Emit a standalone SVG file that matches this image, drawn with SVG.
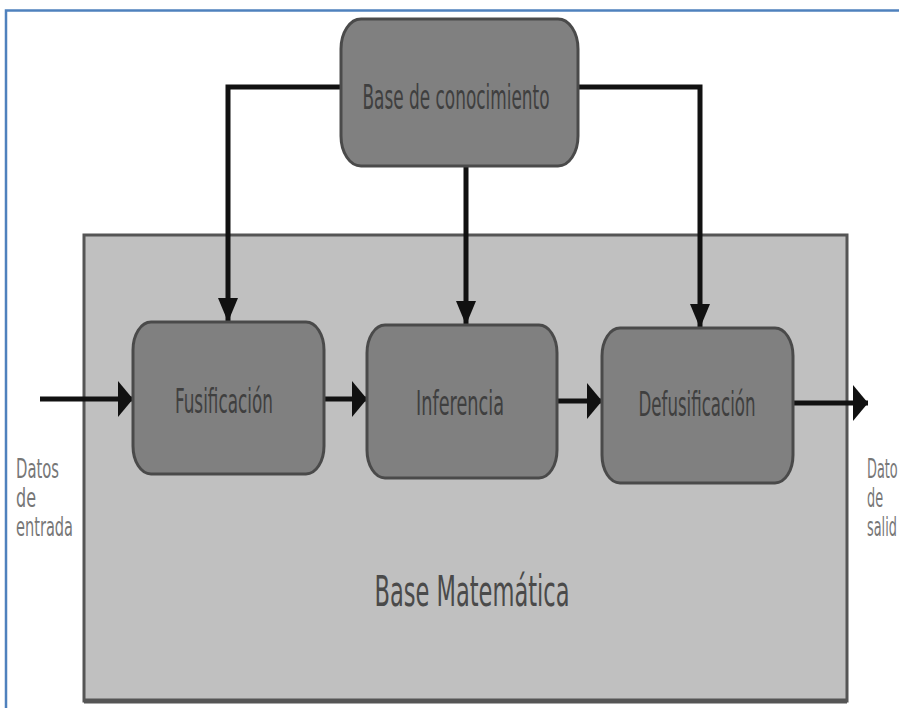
<svg xmlns="http://www.w3.org/2000/svg" width="899" height="708" viewBox="0 0 899 708">
<style>
.node{fill:#808080;stroke:#4a4a4a;stroke-width:3}
.big{fill:#c0c0c0;stroke:#555;stroke-width:3}
.lbl{font-family:"DejaVu Sans","Liberation Sans",sans-serif;font-stretch:condensed;fill:#3f3f3f;text-anchor:middle}
.side{font-family:"DejaVu Sans","Liberation Sans",sans-serif;font-stretch:condensed;fill:#777;font-size:26px}
.con{fill:none;stroke:#111;stroke-width:5}
</style>
<defs>
<marker id="ah" viewBox="0 0 15 36" refX="15" refY="18" markerWidth="15" markerHeight="36" markerUnits="userSpaceOnUse" orient="auto">
<path d="M0,0 L15,18 L0,36 Z" fill="#111"/>
</marker>
<marker id="av" viewBox="0 0 24 20" refX="24" refY="10" markerWidth="24" markerHeight="20" markerUnits="userSpaceOnUse" orient="auto">
<path d="M0,0 L24,10 L0,20 Z" fill="#111"/>
</marker>
</defs>
<rect width="899" height="708" fill="#fff"/>
<path d="M6,708 V10.5 H899" fill="none" stroke="#4f81bd" stroke-width="2.5"/>

<g id="base-matematica">
<rect x="84" y="235" width="763" height="466" class="big"/>
<line x1="84" y1="701" x2="847" y2="701" stroke="#555" stroke-width="5"/>
<text x="472" y="606" class="lbl" font-size="42" textLength="195" lengthAdjust="spacingAndGlyphs" style="fill:#4a4a4a">Base Matemática</text>
</g>

<g id="connectors">
<path class="con" d="M340,87 H228 V322" marker-end="url(#av)"/>
<path class="con" d="M466,167 V325" marker-end="url(#av)"/>
<path class="con" d="M578,87 H700 V328" marker-end="url(#av)"/>
<path class="con" d="M40,399 H133" marker-end="url(#ah)"/>
<path class="con" d="M323,399 H367" marker-end="url(#ah)"/>
<path class="con" d="M557,401 H602" marker-end="url(#ah)"/>
<path class="con" d="M793,403 H868" marker-end="url(#ah)"/>
</g>

<g id="base-conocimiento">
<rect x="341" y="19" width="237" height="147" rx="20" ry="30" class="node"/>
<text x="456" y="109" class="lbl" font-size="34" textLength="187" lengthAdjust="spacingAndGlyphs">Base de conocimiento</text>
</g>

<g id="fusificacion">
<rect x="133" y="322" width="191" height="152" rx="18" ry="28" class="node"/>
<text x="224" y="413" class="lbl" font-size="33" textLength="98" lengthAdjust="spacingAndGlyphs">Fusificación</text>
</g>

<g id="inferencia">
<rect x="367" y="325" width="190" height="153" rx="18" ry="28" class="node"/>
<text x="460" y="415" class="lbl" font-size="33" textLength="88" lengthAdjust="spacingAndGlyphs">Inferencia</text>
</g>

<g id="defusificacion">
<rect x="602" y="328" width="191" height="155" rx="18" ry="28" class="node"/>
<text x="697" y="416" class="lbl" font-size="33" textLength="117" lengthAdjust="spacingAndGlyphs">Defusificación</text>
</g>

<g id="datos-entrada">
<text x="16" y="478" class="side" textLength="43" lengthAdjust="spacingAndGlyphs">Datos</text>
<text x="16" y="507" class="side" textLength="20" lengthAdjust="spacingAndGlyphs">de</text>
<text x="16" y="536" class="side" textLength="57" lengthAdjust="spacingAndGlyphs">entrada</text>
</g>

<g id="datos-salida" transform="translate(867,0) scale(0.55,1)">
<text x="0" y="478" class="side">Dato</text>
<text x="0" y="507" class="side">de</text>
<text x="0" y="536" class="side">salid</text>
</g>
</svg>
